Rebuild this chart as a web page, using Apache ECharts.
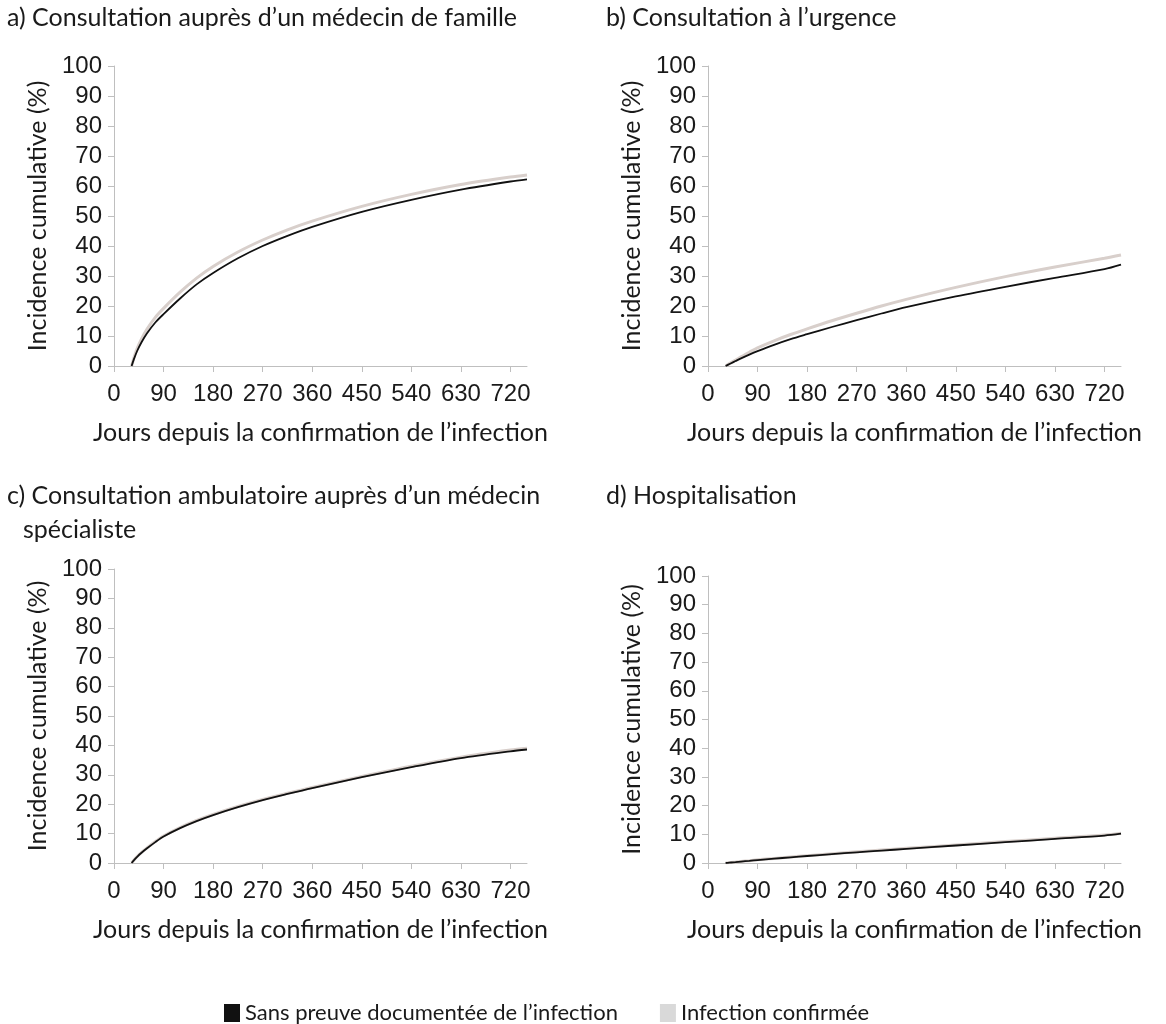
<!DOCTYPE html>
<html>
<head>
<meta charset="utf-8">
<script src="https://cdn.jsdelivr.net/npm/echarts@6/dist/echarts.min.js"></script>
<style>
  html, body { margin: 0; padding: 0; background: #fff; }
  #chart { width: 1166px; height: 1024px; }
</style>
</head>
<body>
<div id="chart"></div>
<script>
// Days since confirmation of infection (x positions of sampled points)
const days = [32, 36, 42, 50, 60, 75, 90, 120, 150, 180, 225, 270, 315, 360, 450, 540, 630, 720, 750];
const xTicks = [0, 90, 180, 270, 360, 450, 540, 630, 720];

// a) Family physician visit
const aNoProof   = [0, 2.2, 5.0, 7.9, 10.9, 14.5, 17.3, 22.5, 27.2, 31.0, 35.9, 40.0, 43.4, 46.4, 51.4, 55.4, 58.8, 61.5, 62.2];
const aConfirmed = [0, 2.6, 5.8, 9.0, 12.3, 16.2, 19.2, 24.6, 29.3, 33.2, 38.0, 42.0, 45.4, 48.3, 53.2, 57.2, 60.5, 63.0, 63.7];
// b) Emergency visit
const bNoProof   = [0, 0.37, 0.92, 1.65, 2.55, 3.8, 4.95, 7.05, 8.95, 10.6, 13.0, 15.3, 17.5, 19.6, 23.2, 26.4, 29.4, 32.3, 33.8];
const bConfirmed = [0, 0.45, 1.12, 1.98, 3.05, 4.6, 6.05, 8.4, 10.5, 12.4, 15.1, 17.6, 20.0, 22.2, 26.2, 29.8, 33.0, 35.9, 37.0];
// c) Outpatient specialist visit
const cNoProof   = [0, 0.9, 2.1, 3.5, 5.0, 7.1, 9.0, 11.85, 14.25, 16.3, 19.0, 21.4, 23.5, 25.5, 29.2, 32.6, 35.7, 38.0, 38.6];
const cConfirmed = [0, 0.95, 2.2, 3.6, 5.15, 7.3, 9.2, 12.05, 14.45, 16.5, 19.2, 21.6, 23.7, 25.7, 29.4, 32.9, 36.0, 38.4, 39.0];
// d) Hospitalisation
const dNoProof   = [0, 0.07, 0.18, 0.32, 0.5, 0.76, 1.02, 1.5, 1.98, 2.44, 3.1, 3.72, 4.32, 4.92, 6.1, 7.25, 8.4, 9.55, 10.2];
const dConfirmed = [0, 0.08, 0.2, 0.35, 0.55, 0.82, 1.1, 1.6, 2.1, 2.57, 3.25, 3.88, 4.5, 5.1, 6.3, 7.45, 8.6, 9.75, 10.4];

const panelTitles = [
  "a) Consultation auprès d’un médecin de famille",
  "b) Consultation à l’urgence",
  "c) Consultation ambulatoire auprès d’un médecin",
  "d) Hospitalisation"
];
const panelTitleCont = "spécialiste";
const seriesNames = ["Sans preuve documentée de l’infection", "Infection confirmée"];
const xName = "Jours depuis la confirmation de l’infection";
const yName = "Incidence cumulative (%)";

const BLACK = "#111111";
const GREY_LINE = "#d8cfcb";
const GREY_SWATCH = "#d9d9d9";
const AXIS = "#bfbfbf";
const TXT = "#1a1a1a";
const numFont = "Liberation Sans";
const txtFont = "Lato";

const grids = [
  { left: 114, top: 66,  width: 413, height: 300 },
  { left: 708, top: 66,  width: 413, height: 300 },
  { left: 114, top: 569, width: 413, height: 294 },
  { left: 708, top: 576, width: 413, height: 287 }
];
const panelData = [
  [aNoProof, aConfirmed],
  [bNoProof, bConfirmed],
  [cNoProof, cConfirmed],
  [dNoProof, dConfirmed]
];

const pair = vals => days.map((d, i) => [d, vals[i]]);

const xAxes = grids.map((g, i) => ({
  type: 'value', gridIndex: i, min: 0, max: 750, interval: 90,
  name: xName, nameLocation: 'middle', nameGap: 54,
  nameTextStyle: { fontFamily: txtFont, fontSize: 25, color: TXT, verticalAlign: 'top' },
  axisLine: { show: true, lineStyle: { color: AXIS, width: 1 } },
  axisTick: { show: true, length: 6, lineStyle: { color: AXIS }, customValues: xTicks },
  axisLabel: { fontFamily: numFont, fontSize: 24, color: TXT, margin: 16, customValues: xTicks },
  splitLine: { show: false }
}));

const yAxes = grids.map((g, i) => ({
  type: 'value', gridIndex: i, min: 0, max: 100, interval: 10,
  name: yName, nameLocation: 'middle', nameGap: 64, nameRotate: 90,
  nameTextStyle: { fontFamily: txtFont, fontSize: 25, color: TXT },
  axisLine: { show: true, lineStyle: { color: AXIS, width: 1 } },
  axisTick: { show: true, length: 6, lineStyle: { color: AXIS } },
  axisLabel: { fontFamily: numFont, fontSize: 24, color: TXT, margin: 12 },
  splitLine: { show: false }
}));

const series = [];
panelData.forEach((pd, i) => {
  series.push({
    name: seriesNames[1], type: 'line', xAxisIndex: i, yAxisIndex: i,
    data: pair(pd[1]), smooth: 0.3, showSymbol: false, silent: true,
    lineStyle: { color: GREY_LINE, width: 3 }, itemStyle: { color: GREY_SWATCH }, z: 2
  });
  series.push({
    name: seriesNames[0], type: 'line', xAxisIndex: i, yAxisIndex: i,
    data: pair(pd[0]), smooth: 0.3, showSymbol: false, silent: true,
    lineStyle: { color: BLACK, width: 1.8 }, itemStyle: { color: BLACK }, z: 3
  });
});

const titleStyle = { fontFamily: txtFont, fontSize: 25, fontWeight: 'normal', color: TXT };
const titles = [
  { text: panelTitles[0], left: 7, top: 5 },
  { text: panelTitles[1], left: 606, top: 5 },
  { text: panelTitles[2], left: 7, top: 483 },
  { text: panelTitleCont, left: 23, top: 517 },
  { text: panelTitles[3], left: 606, top: 483 }
].map(t => Object.assign(t, { padding: 0, textStyle: titleStyle }));

const option = {
  backgroundColor: '#ffffff',
  animation: false,
  title: titles,
  grid: grids,
  xAxis: xAxes,
  yAxis: yAxes,
  legend: {
    data: [
      { name: seriesNames[0], itemStyle: { color: BLACK } },
      { name: seriesNames[1], itemStyle: { color: GREY_SWATCH } }
    ],
    left: 219, top: 997,
    icon: 'rect', itemWidth: 16, itemHeight: 18, itemGap: 42,
    textStyle: { fontFamily: txtFont, fontSize: 22, color: TXT },
    selectedMode: false
  },
  series: series
};

const chart = echarts.init(document.getElementById('chart'), null, { renderer: 'canvas' });
chart.setOption(option);
</script>
</body>
</html>
